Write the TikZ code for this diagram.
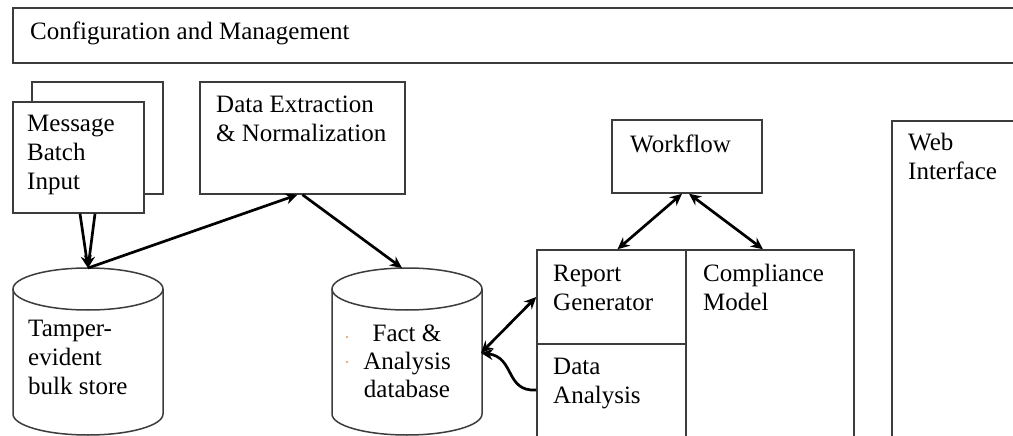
\documentclass[tikz,border=0pt]{standalone}
\usepackage{fontspec}
\setmainfont{Liberation Serif}
\usetikzlibrary{arrows.meta}
\definecolor{boxgray}{RGB}{60,60,60}
\definecolor{dotorange}{RGB}{225,150,90}
\begin{document}
\begin{tikzpicture}[x=1pt,y=-1pt,
  box/.style={draw=boxgray, line width=1.5pt, fill=white, inner sep=0pt},
  cyl/.style={draw=boxgray, line width=1.5pt, fill=white},
  txt/.style={anchor=base west, inner sep=0pt, align=left, font=\fontsize{25}{29}\selectfont, text=black},
  ctxt/.style={anchor=base, inner sep=0pt, align=center, font=\fontsize{25}{28}\selectfont, text=black},
  arr/.style={line width=2.7pt, -{Stealth[length=12pt,width=11pt]}},
  darr/.style={line width=2.7pt, {Stealth[length=12pt,width=11pt]}-{Stealth[length=12pt,width=11pt]}}]
\useasboundingbox (0,0) rectangle (1013,436);
\fill[white] (0,0) rectangle (1013,436);
\clip (0,0) rectangle (1013,436);
% boxes
\node[box, minimum width=1017pt, minimum height=55pt] (cfg) at (521.5,35.5) {};
\node[box, minimum width=131pt, minimum height=112pt] (msgback) at (97.5,138) {};
\node[box, minimum width=131pt, minimum height=111pt] (msg) at (78.5,157.5) {};
\node[box, minimum width=205pt, minimum height=112pt] (dext) at (302.5,138) {};
\node[box, minimum width=150pt, minimum height=73pt] (wf) at (687,156.5) {};
\node[box, minimum width=138pt, minimum height=329pt] (web) at (961,285.5) {};
\node[box, minimum width=149pt, minimum height=94pt] (report) at (611.5,297) {};
\node[box, minimum width=149pt, minimum height=106pt] (analysis) at (611.5,397) {};
\node[box, minimum width=168pt, minimum height=200pt] (comp) at (770,350) {};
% cylinders
\draw[cyl] (13,289) -- (13,414) arc[start angle=180, end angle=360, x radius=75pt, y radius=21pt] -- (163,289);
\draw[cyl] (88,289) ellipse[x radius=75pt, y radius=21pt];
\draw[cyl] (332,289) -- (332,414) arc[start angle=180, end angle=360, x radius=75pt, y radius=21pt] -- (482,289);
\draw[cyl] (407,289) ellipse[x radius=75pt, y radius=21pt];
\coordinate (ttop) at (88,268);
\coordinate (ftop) at (402,268);
\coordinate (fright) at (481,353);
% texts (base = baseline of last line)
\node[txt] (tcfg) at (30,40) {Configuration and Management};
\node[txt] (tmsg) at (27,189) {Message\\Batch\\Input};
\node[txt] (tdext) at (216,142) {Data Extraction\\\& Normalization};
\node[txt] (twf) at (630,152) {Workflow};
\node[txt] (tweb) at (908,179) {Web\\Interface};
\node[txt] (trep) at (553,310) {Report\\Generator};
\node[txt] (tcomp) at (703,310) {Compliance\\Model};
\node[txt] (tana) at (553,403) {Data\\Analysis};
\node[txt] (ttamp) at (28,394) {Tamper-\\evident\\bulk store};
\node[ctxt] (tfact) at (407,397) {Fact \&\\Analysis\\database};
\fill[dotorange] (347,337) circle[radius=1.2pt];
\fill[dotorange] (347,362) circle[radius=1.2pt];
% connectors
\draw[arr] ([xshift=1.5pt]msg.south) -- (ttop);
\draw[arr] ([xshift=16.5pt]msg.south) -- (ttop);
\draw[arr] (ttop) -- ([xshift=-5pt]dext.south);
\draw[arr] (dext.south) -- (ftop);
\draw[darr] (fright) -- (report.west);
\draw[arr] ([yshift=7pt]analysis.west) .. controls (505,392) and (515,357) .. (fright);
\draw[darr] ([xshift=-5pt]wf.south) -- ([xshift=6pt]report.north);
\draw[darr] ([xshift=2pt]wf.south) -- ([xshift=-7pt]comp.north);
\end{tikzpicture}
\end{document}
